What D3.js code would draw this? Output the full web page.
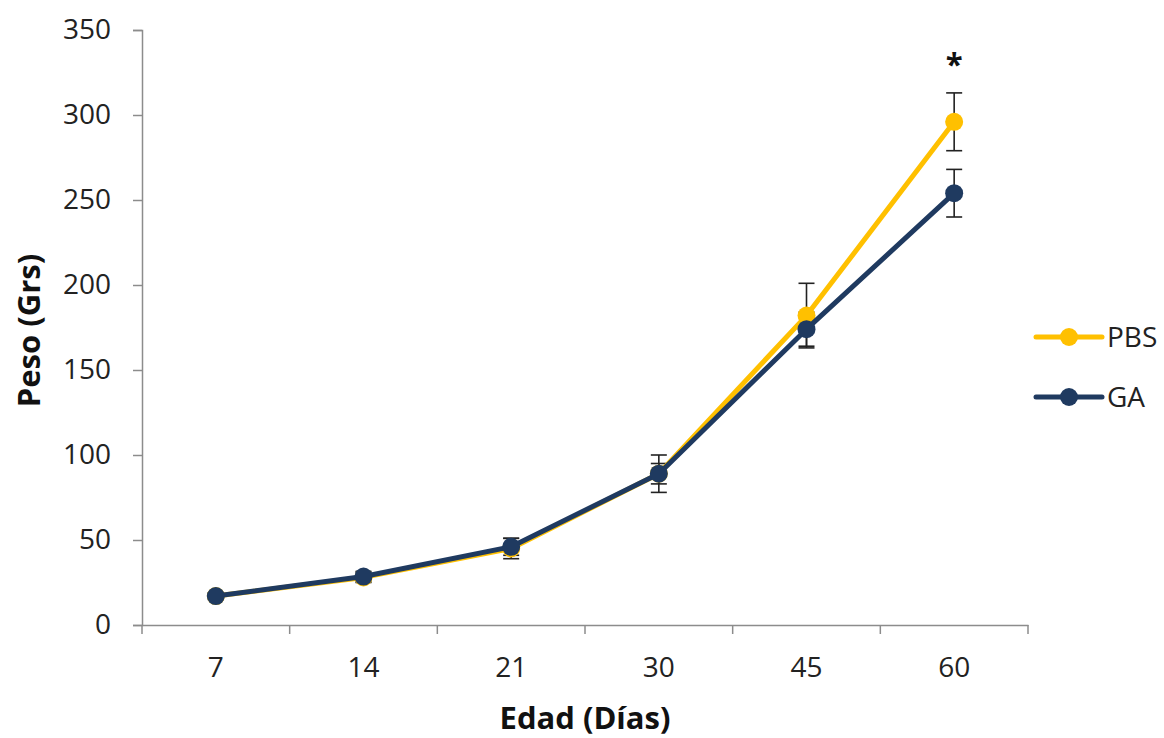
<!DOCTYPE html>
<html>
<head>
<meta charset="utf-8">
<script src="https://cdn.jsdelivr.net/npm/d3@7"></script>
<style>
  body { margin: 0; background: #fff; }
  svg { display: block; font-family: "Open Sans", "Noto Sans", sans-serif; }
</style>
</head>
<body>
<svg id="chart" width="1164" height="738"></svg>
<script>
// Body weight by age
const days = ["7", "14", "21", "30", "45", "60"];
const pbsMean = [17, 28, 45, 89, 182, 296];
const pbsErr  = [2, 3, 6, 11, 19, 17];
const gaMean  = [17, 28.5, 46, 89, 174, 254];
const gaErr   = [2, 3, 5, 6, 10, 14];
const yTicks  = [0, 50, 100, 150, 200, 250, 300, 350];
const seriesNames = ["PBS", "GA"];
const seriesColors = ["#FFC000", "#1F3A60"];

const svg = d3.select("#chart");
const plotLeft = 142, plotRight = 1028, plotTop = 30, plotBottom = 625;

const x = d3.scaleBand().domain(days).range([plotLeft, plotRight]).padding(0);
const y = d3.scaleLinear().domain([0, 350]).range([plotBottom, plotTop]);
const cx = d => x(d) + x.bandwidth() / 2;

// Axes
const yAxis = svg.append("g")
  .attr("transform", `translate(${plotLeft},0)`)
  .call(d3.axisLeft(y).tickValues(yTicks).tickSize(9).tickPadding(22));
const xAxis = svg.append("g")
  .attr("transform", `translate(0,${plotBottom})`)
  .call(d3.axisBottom(x).tickSize(0).tickPadding(32));
// category boundary ticks
const bounds = days.map(d => x(d)).concat([plotRight]);
xAxis.selectAll(".bound").data(bounds).enter().append("line")
  .attr("x1", d => d).attr("x2", d => d).attr("y1", 0).attr("y2", 9)
  .attr("stroke", "#8c8c8c").attr("stroke-width", 1.5);

[yAxis, xAxis].forEach(g => {
  g.select(".domain").attr("stroke", "#8c8c8c").attr("stroke-width", 1.5);
  g.selectAll(".tick line").attr("stroke", "#8c8c8c").attr("stroke-width", 1.5);
  g.selectAll(".tick text").attr("fill", "#222").style("font-size", "28px")
    .style("font-family", "'Open Sans', sans-serif");
});

// Axis titles
svg.append("text")
  .attr("x", 585).attr("y", 729)
  .attr("text-anchor", "middle")
  .style("font-size", "31px").style("font-weight", "bold").attr("fill", "#111")
  .text("Edad (Días)");
svg.append("text")
  .attr("transform", `translate(40,${(plotTop + plotBottom) / 2 + 3}) rotate(-90)`)
  .attr("text-anchor", "middle")
  .style("font-size", "31px").style("font-weight", "bold").attr("fill", "#111")
  .text("Peso (Grs)");

// Series
const series = [
  { name: seriesNames[0], color: seriesColors[0], mean: pbsMean, err: pbsErr },
  { name: seriesNames[1], color: seriesColors[1], mean: gaMean,  err: gaErr }
];
series.forEach(s => {
  s.pts = days.map((day, i) => ({ day, v: s.mean[i], e: s.err[i] }));
});
const line = d3.line().x(d => cx(d.day)).y(d => y(d.v));

// error bars sit beneath the lines and markers
const errLayer = svg.append("g");
series.forEach(s => {
  const eb = errLayer.append("g").selectAll("g").data(s.pts).enter().append("g");
  eb.append("line")
    .attr("x1", d => cx(d.day)).attr("x2", d => cx(d.day))
    .attr("y1", d => y(d.v + d.e)).attr("y2", d => y(d.v - d.e));
  eb.append("line")
    .attr("x1", d => cx(d.day) - 8).attr("x2", d => cx(d.day) + 8)
    .attr("y1", d => y(d.v + d.e)).attr("y2", d => y(d.v + d.e));
  eb.append("line")
    .attr("x1", d => cx(d.day) - 8).attr("x2", d => cx(d.day) + 8)
    .attr("y1", d => y(d.v - d.e)).attr("y2", d => y(d.v - d.e));
  eb.selectAll("line").attr("stroke", "#222").attr("stroke-width", 1.6);
});

series.forEach(s => {
  const g = svg.append("g");
  g.append("path").datum(s.pts).attr("d", line)
    .attr("fill", "none").attr("stroke", s.color).attr("stroke-width", 5)
    .attr("stroke-linejoin", "round");
  g.selectAll("circle").data(s.pts).enter().append("circle")
    .attr("cx", d => cx(d.day)).attr("cy", d => y(d.v)).attr("r", 9)
    .attr("fill", s.color);
});

// Significance mark
svg.append("text")
  .attr("x", cx("60")).attr("y", 75)
  .attr("text-anchor", "middle")
  .style("font-size", "31px").style("font-weight", "bold").attr("fill", "#111")
  .text("*");

// Legend
const legend = svg.append("g");
series.forEach((s, i) => {
  const ly = 337 + i * 60;
  legend.append("line").attr("x1", 1036).attr("x2", 1102).attr("y1", ly).attr("y2", ly)
    .attr("stroke", s.color).attr("stroke-width", 5).attr("stroke-linecap", "round");
  legend.append("circle").attr("cx", 1069).attr("cy", ly).attr("r", 9).attr("fill", s.color);
  legend.append("text").attr("x", 1107).attr("y", ly + 10)
    .style("font-size", "28px").attr("fill", "#222").text(s.name);
});
</script>
</body>
</html>
